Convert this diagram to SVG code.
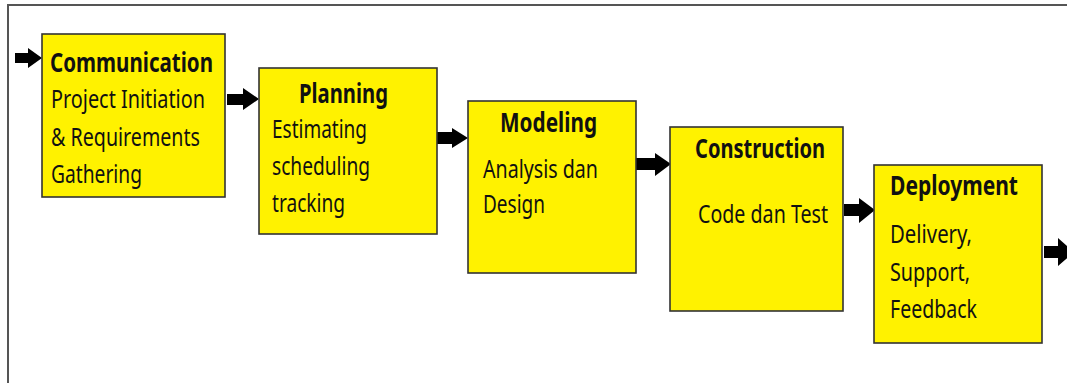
<svg xmlns="http://www.w3.org/2000/svg" width="1067" height="383" viewBox="0 0 1067 383">
<style>
.box{fill:#FFF200;stroke:#333;stroke-width:1.6}
.frame{fill:none;stroke:#555;stroke-width:2}
.t{font-family:"Noto Sans","Open Sans","Liberation Sans",sans-serif;font-size:25px;fill:#111}
.h{font-family:"Noto Sans","Open Sans","Liberation Sans",sans-serif;font-size:26px;font-weight:bold;fill:#111}
.arr{fill:#000}
</style>
<rect class="frame" x="8" y="5" width="1100" height="400"/>
<g id="connectors">
<path class="arr" d="M15,53H28V48L42,58L28,68V63H15Z"/>
<path class="arr" d="M227,94H243V88L259,99L243,110V105H227Z"/>
<path class="arr" d="M437,132H452V128L468,138L452,148V144H437Z"/>
<path class="arr" d="M636,158H655V153L671,164L655,176V170H636Z"/>
<path class="arr" d="M844,204H859V198L875,210L859,223V216H844Z"/>
<path class="arr" d="M1044,246H1058V238L1074,252L1058,266V258H1044Z"/>
</g>
<g id="communication">
<rect class="box" x="42" y="34" width="183" height="163"/>
<text class="h" x="50" y="72" textLength="163" lengthAdjust="spacingAndGlyphs">Communication</text>
<text class="t" x="51" y="108" textLength="154" lengthAdjust="spacingAndGlyphs">Project Initiation</text>
<text class="t" x="51" y="146" textLength="149" lengthAdjust="spacingAndGlyphs">&amp; Requirements</text>
<text class="t" x="51" y="183" textLength="91" lengthAdjust="spacingAndGlyphs">Gathering</text>
</g>
<g id="planning">
<rect class="box" x="259" y="68" width="178" height="166"/>
<text class="h" x="299" y="103" textLength="89" lengthAdjust="spacingAndGlyphs">Planning</text>
<text class="t" x="272" y="138" textLength="95" lengthAdjust="spacingAndGlyphs">Estimating</text>
<text class="t" x="272" y="175" textLength="98" lengthAdjust="spacingAndGlyphs">scheduling</text>
<text class="t" x="272" y="212" textLength="73" lengthAdjust="spacingAndGlyphs">tracking</text>
</g>
<g id="modeling">
<rect class="box" x="468" y="101" width="168" height="172"/>
<text class="h" x="500" y="132" textLength="97" lengthAdjust="spacingAndGlyphs">Modeling</text>
<text class="t" x="483" y="178" textLength="115" lengthAdjust="spacingAndGlyphs">Analysis dan</text>
<text class="t" x="483" y="213" textLength="62" lengthAdjust="spacingAndGlyphs">Design</text>
</g>
<g id="construction">
<rect class="box" x="670" y="127" width="173" height="184"/>
<text class="h" x="695" y="158" textLength="130" lengthAdjust="spacingAndGlyphs">Construction</text>
<text class="t" x="698" y="223" textLength="130" lengthAdjust="spacingAndGlyphs">Code dan Test</text>
</g>
<g id="deployment">
<rect class="box" x="874" y="165" width="168" height="178"/>
<text class="h" x="890" y="195" textLength="128" lengthAdjust="spacingAndGlyphs">Deployment</text>
<text class="t" x="890" y="243" textLength="82" lengthAdjust="spacingAndGlyphs">Delivery,</text>
<text class="t" x="890" y="281" textLength="80" lengthAdjust="spacingAndGlyphs">Support,</text>
<text class="t" x="890" y="318" textLength="87" lengthAdjust="spacingAndGlyphs">Feedback</text>
</g>
</svg>
